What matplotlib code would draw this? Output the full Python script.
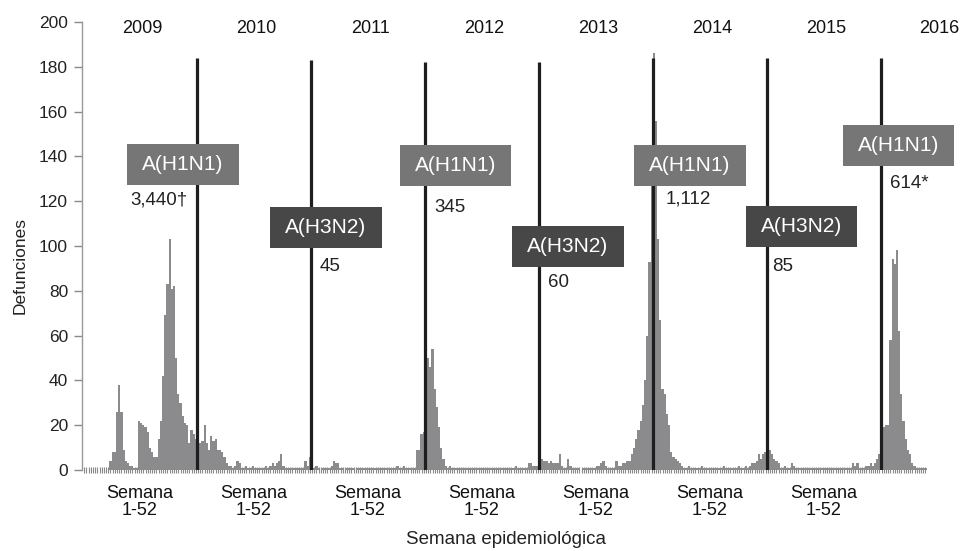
import matplotlib
matplotlib.use("Agg")
import matplotlib.pyplot as plt
from matplotlib.patches import Rectangle
import numpy as np

plt.rcParams['font.family'] = ['Liberation Sans', 'DejaVu Sans']

# weekly deaths, one list per year (2016 is partial)
years = [2009, 2010, 2011, 2012, 2013, 2014, 2015, 2016]
d2009 = [0] * 12 + [4, 8, 8, 26, 38, 26, 9, 4, 3, 2, 2, 1, 1, 22, 21, 20, 19, 17, 10, 8,
                    6, 6, 14, 22, 42, 69, 83, 103, 81, 82, 50, 34, 30, 24, 21, 20, 12, 18, 16, 14]
d2010 = [27, 12, 13, 20, 12, 9, 15, 13, 14, 9, 9, 8, 6, 3, 2, 2, 1, 2, 4, 3,
         1, 1, 2, 1, 1, 2, 1, 1, 1, 1, 1, 2, 1, 2, 3, 2, 3, 4, 7, 2,
         1, 1, 1, 1, 1, 1, 1, 1, 1, 4, 2, 6]
d2011 = [2, 1, 2, 1, 0, 1, 1, 1, 1, 2, 4, 3, 3, 1, 1, 0, 1, 1, 1, 1,
         0, 1, 1, 1, 1, 1, 1, 1, 1, 1, 1, 1, 1, 1, 1, 1, 1, 1, 1, 2,
         1, 1, 2, 1, 1, 1, 1, 1, 9, 9, 16, 17]
d2012 = [43, 50, 46, 54, 36, 28, 19, 10, 5, 2, 1, 2, 1, 1, 1, 1, 1, 1, 1, 1,
         1, 1, 1, 1, 1, 1, 1, 1, 1, 1, 1, 1, 1, 1, 1, 1, 1, 1, 1, 1,
         1, 2, 1, 1, 1, 1, 1, 3, 3, 2, 2, 2]
d2013 = [2, 5, 4, 4, 3, 4, 3, 3, 3, 7, 2, 1, 1, 5, 2, 1, 1, 1, 1, 0,
         1, 1, 1, 1, 1, 1, 2, 2, 3, 4, 2, 1, 1, 1, 1, 4, 2, 2, 3,
         3, 4, 4, 7, 10, 14, 18, 22, 29, 40, 60, 93, 140]
d2014 = [186, 156, 103, 67, 36, 34, 25, 20, 8, 6, 5, 4, 3, 2, 1, 1, 2, 1, 1, 1,
         1, 1, 2, 1, 1, 1, 1, 1, 1, 1, 1, 1, 2, 1, 1, 1, 1, 1, 1, 2,
         1, 1, 2, 1, 2, 3, 3, 4, 7, 5, 7, 8]
d2015 = [6, 9, 7, 5, 4, 3, 1, 1, 2, 1, 1, 3, 2, 1, 1, 1, 1, 1, 1, 1,
         1, 1, 1, 1, 1, 1, 1, 1, 1, 1, 1, 1, 1, 1, 1, 1, 1, 1, 1, 3,
         2, 3, 1, 1, 1, 2, 2, 3, 2, 3, 5, 7]
d2016 = [15, 19, 20, 20, 58, 94, 92, 98, 62, 34, 22, 14, 9, 7, 3, 2, 1, 1, 1, 1, 1]

# season annotations: subtype and total deaths
subtypes = ['A(H1N1)', 'A(H3N2)', 'A(H1N1)', 'A(H3N2)', 'A(H1N1)', 'A(H3N2)', 'A(H1N1)']
totals = ['3,440†', '45', '345', '60', '1,112', '85', '614*']
line_tops = [184, 183, 182, 182, 184, 184, 184]

weekly = np.array(d2009 + d2010 + d2011 + d2012 + d2013 + d2014 + d2015 + d2016)
weeks = np.arange(len(weekly))

fig = plt.figure(figsize=(9.6, 5.51), dpi=100)
ax = fig.add_axes([82 / 960, 81 / 551, (943 - 82) / 960, (529 - 81) / 551])

ax.bar(weeks, weekly, width=1.0, color='#8b8b8d', linewidth=0, zorder=2)

# year separators
for k, top in enumerate(line_tops, start=1):
    ax.plot([52 * k - 0.5, 52 * k - 0.5], [0, top], color='#1e1e1e', lw=2.3, zorder=3,
            solid_capstyle='butt')

# annotation boxes: (left, bottom, colour, label x, label y)
boxes = [
    (19.6, 127.2, '#767676', 21.0, 120.5),
    (84.8, 99.0, '#474747', 107.6, 91.0),
    (144.0, 126.8, '#767676', 159.6, 117.4),
    (195.2, 90.6, '#474747', 211.6, 83.5),
    (250.9, 126.8, '#767676', 265.5, 121.0),
    (301.9, 99.6, '#474747', 313.8, 91.0),
    (346.2, 135.7, '#767676', 367.6, 128.0),
]
bw, bh = 51.0, 18.3
for (x0, y0, col, tx, ty), sub, tot in zip(boxes, subtypes, totals):
    ax.add_patch(Rectangle((x0, y0), bw, bh, facecolor=col, edgecolor='none',
                           zorder=4, clip_on=False))
    ax.text(x0 + bw / 2, y0 + bh / 2, sub, color='white', fontsize=15,
            ha='center', va='center', zorder=5, clip_on=False)
    ax.text(tx, ty, tot, color='#222222', fontsize=13.5, ha='left', va='center', zorder=5)

# year labels along the top and week labels below
for k, yr in enumerate(years):
    ax.text(52 * k + 26.5, 197, str(yr), fontsize=13, ha='center', va='center',
            color='#111111')
    if yr < 2016:
        ax.text(52 * k + 25.5, -6.5, 'Semana\n1-52', fontsize=13, ha='center', va='top',
                color='#111111', linespacing=1.0)

ax.set_xlim(-1, 392)
ax.set_ylim(0, 200)
ax.set_yticks(np.arange(0, 201, 20))
ax.tick_params(axis='y', colors='#888888', labelcolor='#222222', labelsize=12.5,
               length=6, width=1, pad=4)
ax.set_xticks(weeks)
ax.set_xticklabels([])
ax.tick_params(axis='x', direction='inout', length=5, width=0.8, colors='#8a8a8a')

for side in ['top', 'right', 'bottom']:
    ax.spines[side].set_visible(False)
ax.spines['left'].set_color('#999999')
ax.spines['left'].set_linewidth(1)

fig.text(20 / 960, 1 - 265 / 551, 'Defunciones', rotation=90, fontsize=12.5,
         ha='center', va='center', color='#222222')
fig.text(506 / 960, 1 - 540 / 551, 'Semana epidemiológica', fontsize=13.5,
         ha='center', va='center', color='#222222')

fig.savefig('out.png', dpi=100)
